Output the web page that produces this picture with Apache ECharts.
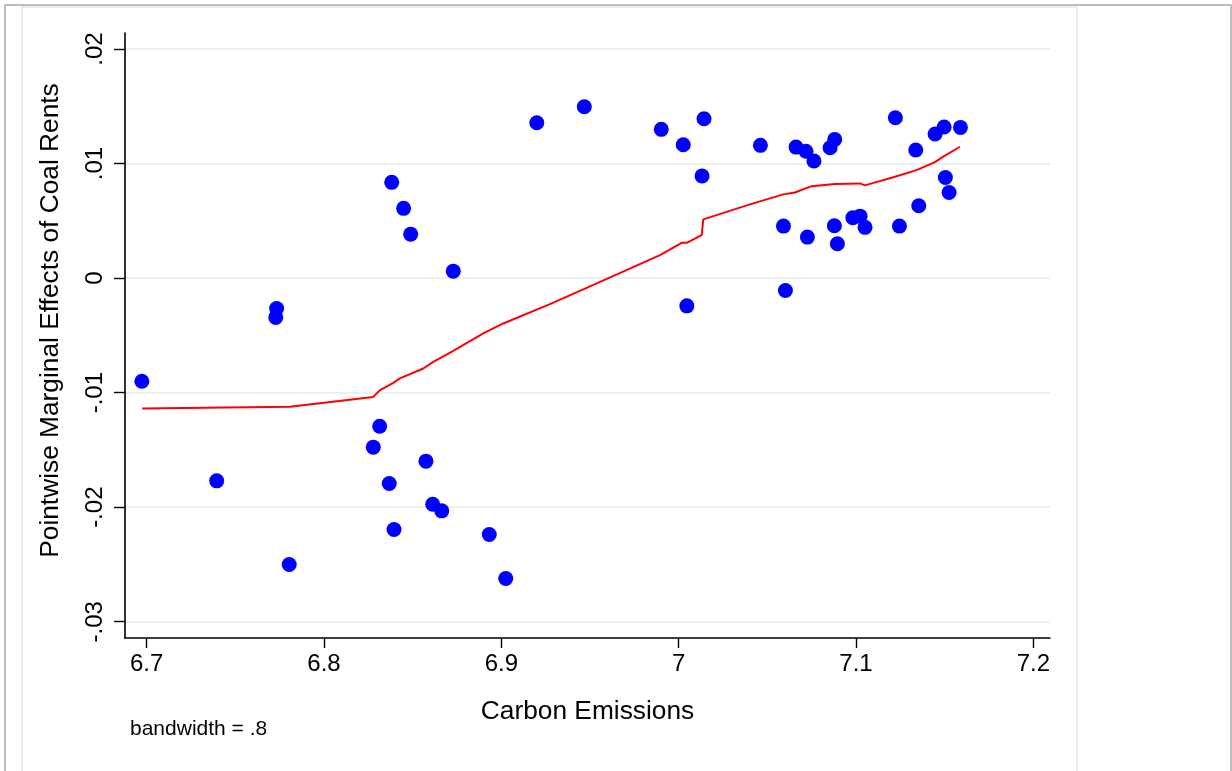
<!DOCTYPE html>
<html>
<head>
<meta charset="utf-8">
<script src="https://cdn.jsdelivr.net/npm/echarts@6/dist/echarts.min.js"></script>
<style>
html,body{margin:0;padding:0;background:#fff;}
#chart{width:1232px;height:771px;}
</style>
</head>
<body>
<div id="chart"></div>
<script>
// ---- data ----
const xTickValues = [6.7, 6.8, 6.9, 7.0, 7.1, 7.2];
const xTickLabels = ['6.7', '6.8', '6.9', '7', '7.1', '7.2'];
const yTickValues = [-0.03, -0.02, -0.01, 0, 0.01, 0.02];
const yTickLabels = ['-.03', '-.02', '-.01', '0', '.01', '.02'];

const carbonEmissions = [
  6.6973, 6.7395, 6.7733, 6.7728, 6.7804,
  6.8382, 6.8449, 6.8489, 6.8729, 6.8314, 6.8278, 6.8575, 6.8368, 6.8613, 6.8664, 6.8395, 6.8932, 6.9025,
  6.9200, 6.9468, 6.9902, 7.0026, 7.0143, 7.0132, 7.0046,
  7.0461, 7.0662, 7.0718, 7.0763, 7.0854, 7.0880, 7.1222, 7.1337, 7.1446, 7.1497, 7.1589, 7.1504, 7.1525,
  7.1354, 7.0591, 7.0726, 7.0878, 7.0895, 7.0982, 7.1023, 7.1051, 7.1245, 7.0602
];
const marginalEffects = [
  -0.0090, -0.0177, -0.00265, -0.00343, -0.0250,
  0.00836, 0.00609, 0.00384, 0.00061, -0.01293, -0.01476, -0.01598, -0.01793, -0.01974, -0.02032, -0.02195, -0.02238, -0.02623,
  0.01356, 0.01496, 0.01299, 0.01164, 0.01391, 0.00891, -0.00242,
  0.01159, 0.01144, 0.01107, 0.01022, 0.01138, 0.01211, 0.01400, 0.01118, 0.01258, 0.01319, 0.01316, 0.00879, 0.00748,
  0.00632, 0.00454, 0.00358, 0.00457, 0.00300, 0.00527, 0.00541, 0.00443, 0.00454, -0.00108
];

const lowessX = [
  6.6975, 6.7808, 6.8278, 6.8316, 6.8391, 6.8428, 6.8560, 6.8616, 6.8729, 6.8898,
  6.9011, 6.9274, 6.9462, 6.9895, 7.0017, 7.0045, 7.0130, 7.0139, 7.0402, 7.0590,
  7.0656, 7.0750, 7.0881, 7.1022, 7.1050, 7.1210, 7.1342, 7.1445, 7.1492, 7.1586
];
const lowessY = [
  -0.01138, -0.01124, -0.01037, -0.00978, -0.00914, -0.00876, -0.00789, -0.00731, -0.00635, -0.00483,
  -0.00396, -0.00227, -0.00099, 0.00201, 0.00308, 0.00308, 0.00376, 0.00513, 0.00644, 0.00731,
  0.00748, 0.00803, 0.00821, 0.00827, 0.00810, 0.00880, 0.00943, 0.01013, 0.01060, 0.01147
];

const xTitle = 'Carbon Emissions';
const yTitle = 'Pointwise Marginal Effects of Coal Rents';
const noteText = 'bandwidth = .8';

// ---- chart ----
const FONT = 'Liberation Sans, Arial, Helvetica, sans-serif';
function labelFor(values, labels) {
  return function (v) {
    for (let i = 0; i < values.length; i++) {
      if (Math.abs(values[i] - v) < 1e-9) return labels[i];
    }
    return '';
  };
}

const chart = echarts.init(document.getElementById('chart'), null, {renderer: 'canvas'});
chart.setOption({
  animation: false,
  backgroundColor: '#ffffff',
  graphic: [
    {type: 'rect', shape: {x: 5, y: 5, width: 1226, height: 790}, style: {fill: 'none', stroke: '#bebebe', lineWidth: 2}, z: -10},
    {type: 'rect', shape: {x: 22, y: 7, width: 1055, height: 790}, style: {fill: 'none', stroke: '#e6edf2', lineWidth: 2}, z: -9},
    {type: 'text', left: 130, top: 719, style: {text: noteText, font: '21px ' + FONT, fill: '#000'}}
  ],
  grid: {left: 125, right: 182, top: 33, bottom: 133, containLabel: false},
  xAxis: {
    type: 'value',
    min: 6.6878, max: 7.2094,
    name: xTitle,
    nameLocation: 'middle',
    nameGap: 61,
    nameMoveOverlap: false,
    nameTextStyle: {fontFamily: FONT, fontSize: 26.3, color: '#000'},
    axisLine: {show: true, onZero: false, lineStyle: {color: '#000', width: 1.6}},
    axisTick: {show: true, inside: false, length: 10, lineStyle: {color: '#000', width: 1.4}, customValues: xTickValues},
    axisLabel: {show: true, margin: 14, fontFamily: FONT, fontSize: 24, color: '#000', customValues: xTickValues,
      formatter: labelFor(xTickValues, xTickLabels)},
    splitLine: {show: false}
  },
  yAxis: {
    type: 'value',
    min: -0.03142, max: 0.0214,
    name: yTitle,
    nameLocation: 'middle',
    nameRotate: 90,
    nameGap: 61,
    nameMoveOverlap: false,
    nameTextStyle: {fontFamily: FONT, fontSize: 26.3, color: '#000', padding: [0, 0, 0, 30]},
    axisLine: {show: true, onZero: false, lineStyle: {color: '#000', width: 1.6}},
    axisTick: {show: true, inside: false, length: 11, lineStyle: {color: '#000', width: 1.4}, customValues: yTickValues},
    axisLabel: {show: true, rotate: 90, margin: 18, fontFamily: FONT, fontSize: 24, color: '#000', customValues: yTickValues,
      formatter: labelFor(yTickValues, yTickLabels)},
    splitLine: {show: true, lineStyle: {color: '#eaf1f3', width: 2}}
  },
  series: [
    {
      type: 'scatter',
      data: carbonEmissions.map((x, i) => [x, marginalEffects[i]]),
      symbol: 'circle',
      symbolSize: 15,
      itemStyle: {color: '#0000ff', opacity: 1},
      z: 3
    },
    {
      type: 'line',
      data: lowessX.map((x, i) => [x, lowessY[i]]),
      showSymbol: false,
      smooth: false,
      lineStyle: {color: '#ff0000', width: 2},
      itemStyle: {color: '#ff0000'},
      z: 4
    }
  ]
});
</script>
</body>
</html>
